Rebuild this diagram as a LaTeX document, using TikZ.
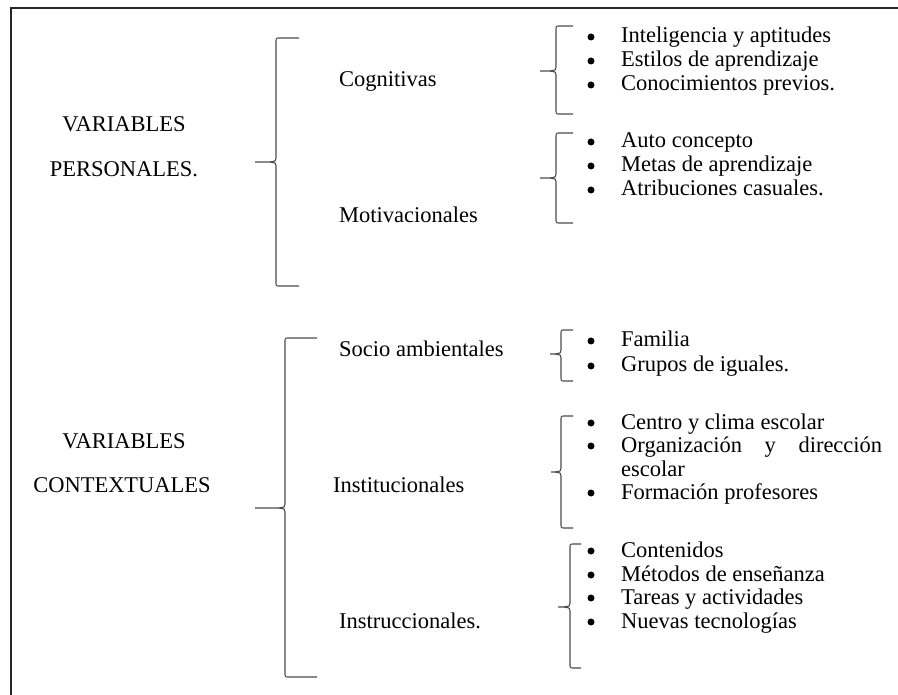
\documentclass[tikz,border=0pt]{standalone}
\usepackage{fontspec}
\setmainfont{Liberation Serif}
\usetikzlibrary{positioning}

% #1 = x of the line, #2 = top, #3 = bottom, #4 = y of the tip, #5 = x of the tip, #6 = x of the hooks
\newcommand{\llave}[6]{%
  \draw[llave] (#6,#2) -- (#1+4,#2) .. controls (#1,#2) .. (#1,#2+4)
    -- (#1,#4-4) .. controls (#1,#4-1) .. (#1-6,#4) -- (#5,#4);
  \draw[llave] (#1-6,#4) .. controls (#1,#4+1) .. (#1,#4+4)
    -- (#1,#3-4) .. controls (#1,#3) .. (#1+4,#3) -- (#6,#3);
}

\begin{document}
\begin{tikzpicture}[
    x=1pt, y=-1pt,
    every node/.style={font=\fontsize{22.5}{26}\selectfont},
    marco/.style={line width=2pt, black!85},
    llave/.style={line width=1.1pt, black!70},
    titulo/.style={anchor=base, inner sep=0pt},
    categoria/.style={anchor=base west, inner sep=0pt},
    vineta/.style={circle, fill=black, minimum size=7pt, inner sep=0pt},
    item_style/.style={anchor=base west, inner sep=0pt}
]

\useasboundingbox (0,0) rectangle (898,695);

% Draw frame
\draw[marco] (11,695) -- (11,8) -- (898,8);

% Main groups
\node[titulo] (var_per) at (124,132) {VARIABLES};
\node[titulo] (personales) at (124,177) {PERSONALES.};
\node[titulo] (var_con) at (124,448) {VARIABLES};
\node[titulo] (contextuales) at (122,492) {CONTEXTUALES};

% Sub groups
\node[categoria] (cognitivas) at (339,87) {Cognitivas};
\node[categoria] (motivacionales) at (339,223) {Motivacionales};
\node[categoria] (socio) at (339,356) {Socio ambientales};
\node[categoria] (institucionales) at (333,492) {Institucionales};
\node[categoria] (instruccionales) at (339,628) {Instruccionales.};

% Braces
\llave{276}{38}{286}{162}{255}{299}
\llave{285}{338}{677}{508}{255}{317}
\llave{556}{26}{114}{71}{540}{573}
\llave{556}{133}{223}{178}{540}{573}
\llave{561}{330}{381}{354}{550}{573}
\llave{561}{416}{528}{472}{551}{573}
\llave{570}{544}{668}{607}{558}{581}

% Bulleted items
\foreach \y/\t [count=\i] in {
    43/Inteligencia y aptitudes,
    67/Estilos de aprendizaje,
    91/Conocimientos previos.,
    148/Auto concepto,
    172/Metas de aprendizaje,
    196/Atribuciones casuales.,
    347/Familia,
    372/Grupos de iguales.,
    429/Centro y clima escolar,
    452/\makebox[261pt][s]{Organización y dirección},
    499/Formación profesores,
    557/Contenidos,
    581/Métodos de enseñanza,
    604/Tareas y actividades,
    628/Nuevas tecnologías}
{
    \node[vineta] (b\i) at (591,\y-6) {};
    \node[item_style] (t\i) at (621,\y) {\t};
}
\node[item_style] (escolar) at (621,476) {escolar};

\end{tikzpicture}
\end{document}
